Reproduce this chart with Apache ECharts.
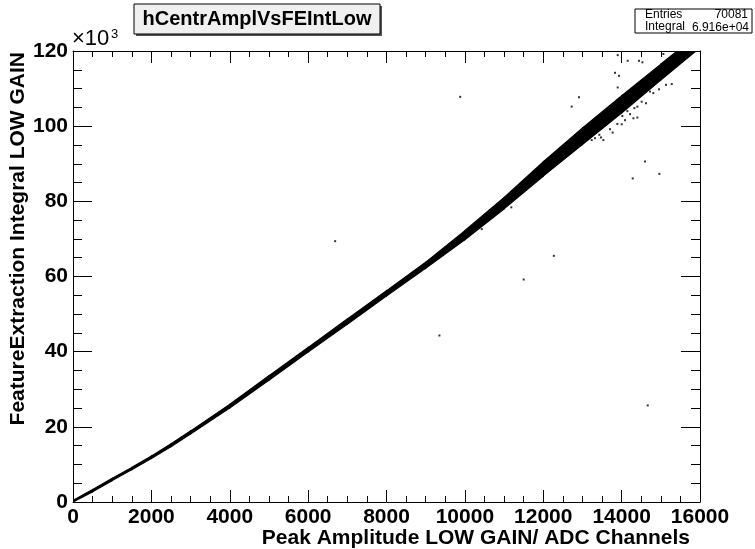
<!DOCTYPE html>
<html>
<head>
<meta charset="utf-8">
<script src="https://cdn.jsdelivr.net/npm/echarts@6/dist/echarts.min.js"></script>
<style>
html,body{margin:0;padding:0;background:#fff;}
#c{width:755px;height:549px;}
</style>
</head>
<body>
<div id="c"></div>
<script>
// Band of the 2D histogram (x in ADC channels, y in units of 10^3)
const bandX    = [0, 500, 1000, 1500, 2000, 2500, 3000, 4000, 5000, 6000, 7000, 8000, 9000, 10000, 11000, 12000, 13000, 14000, 15000, 16000];
const bandLow  = [0, 2.7, 5.7, 8.6, 11.6, 14.7, 18.1, 25.0, 32.4, 39.9, 47.3, 54.8, 62.2, 69.8, 78.0, 86.7, 95.1, 103.5, 112.3, 120.9];
const bandHigh = [0.4, 3.3, 6.3, 9.2, 12.2, 15.5, 18.9, 26.0, 33.6, 41.1, 48.7, 56.2, 63.8, 72.2, 81.0, 90.5, 99.5, 108.1, 116.5, 124.9];

// Isolated entries
const outX = [6690, 9350, 9880, 11500, 12270, 14666, 10430, 11185,
  13900, 14155, 14444, 14530, 15065, 13831, 13933, 13900, 12913, 12726,
  14725, 14809, 14955, 15133, 15279, 14512, 14622, 14401, 14325, 14146, 14215, 14019,
  14300, 14401, 14087, 13891, 14002, 13704, 13772, 13431, 13321, 13474, 13237, 13534,
  14597, 14963, 14283];
const outY = [69.4, 44.3, 107.8, 59.2, 65.5, 25.7, 72.6, 78.4,
  118.9, 117.4, 117.4, 117.0, 119.2, 114.2, 113.4, 110.3, 107.7, 105.2,
  109.2, 108.8, 109.8, 111.0, 111.2, 106.5, 106.1, 105.2, 104.8, 104.0, 103.2, 102.7,
  102.1, 102.3, 101.6, 100.6, 100.5, 99.2, 98.3, 97.7, 96.8, 97.0, 96.3, 96.3,
  90.6, 87.3, 86.1];

const xTicksMax = 16000, xInterval = 2000;
const yTicksMax = 120, yInterval = 20;

const FONT = 'Liberation Sans, Arial, Helvetica, sans-serif';

const bandData = bandX.map((x, i) => [x, bandLow[i], bandHigh[i]]);
const outData = outX.map((x, i) => [x, outY[i]]);

const chart = echarts.init(document.getElementById('c'), null, {renderer: 'canvas'});

function xAxisCfg(pos, showLabel) {
  return {
    type: 'value', position: pos, min: 0, max: xTicksMax, interval: xInterval,
    axisLine: {show: true, onZero: false, lineStyle: {color: '#000', width: 1}},
    axisTick: {show: true, inside: true, length: 12, lineStyle: {color: '#000'}},
    minorTick: {show: true, splitNumber: 4, length: 6, lineStyle: {color: '#000'}},
    splitLine: {show: false},
    axisLabel: {show: showLabel, color: '#000', fontFamily: FONT, fontWeight: 'bold', fontSize: 21, margin: 5,
      showMinLabel: true, showMaxLabel: true, formatter: v => String(v)}
  };
}
function yAxisCfg(pos, showLabel) {
  return {
    type: 'value', position: pos, min: 0, max: yTicksMax, interval: yInterval,
    axisLine: {show: true, onZero: false, lineStyle: {color: '#000', width: 1}},
    axisTick: {show: true, inside: true, length: 19, lineStyle: {color: '#000'}},
    minorTick: {show: true, splitNumber: 4, length: 9, lineStyle: {color: '#000'}},
    splitLine: {show: false},
    axisLabel: {show: showLabel, color: '#000', fontFamily: FONT, fontWeight: 'bold', fontSize: 21, margin: 5,
      showMinLabel: true, showMaxLabel: true, formatter: v => String(v)}
  };
}

chart.setOption({
  animation: false,
  backgroundColor: '#fff',
  grid: {left: 73, right: 55, top: 51, bottom: 47, containLabel: false},
  xAxis: [xAxisCfg('bottom', true), xAxisCfg('top', false)],
  yAxis: [yAxisCfg('left', true), yAxisCfg('right', false)],
  series: [
    {
      type: 'custom', data: bandData, z: 2,
      encode: {x: 0, y: [1, 2]},
      renderItem: function (params, api) {
        const i = params.dataIndex;
        if (i >= bandX.length - 1) return null;
        const p1 = api.coord([bandX[i], bandLow[i]]);
        const p2 = api.coord([bandX[i + 1], bandLow[i + 1]]);
        const p3 = api.coord([bandX[i + 1], bandHigh[i + 1]]);
        const p4 = api.coord([bandX[i], bandHigh[i]]);
        const cs = params.coordSys;
        return {
          type: 'polygon',
          shape: {points: [p1, p2, p3, p4]},
          style: {fill: '#000', stroke: '#000', lineWidth: 1.2},
          clipPath: {type: 'rect', shape: {x: cs.x, y: cs.y, width: cs.width, height: cs.height}}
        };
      }
    },
    {type: 'scatter', data: outData, symbol: 'rect', symbolSize: 2, itemStyle: {color: '#000'}, clip: true, z: 3}
  ],
  graphic: [
    // title box
    {type: 'rect', shape: {x: 136, y: 6, width: 246, height: 30}, style: {fill: '#555'}, z: 10},
    {type: 'rect', shape: {x: 134, y: 4, width: 246, height: 30}, style: {fill: '#f0f0f0', stroke: '#000', lineWidth: 1}, z: 11},
    {type: 'text', x: 257, y: 19, z: 12,
     style: {text: 'hCentrAmplVsFEIntLow', fill: '#000', font: 'bold 20px ' + FONT, align: 'center', verticalAlign: 'middle'}},
    // stats box
    {type: 'rect', shape: {x: 635, y: 9, width: 117, height: 24}, style: {fill: '#fff', stroke: '#000', lineWidth: 1}, z: 10},
    {type: 'text', x: 645, y: 15, z: 12, style: {text: 'Entries', fill: '#000', font: '12px ' + FONT, align: 'left', verticalAlign: 'middle'}},
    {type: 'text', x: 748, y: 15, z: 12, style: {text: '70081', fill: '#000', font: '12px ' + FONT, align: 'right', verticalAlign: 'middle'}},
    {type: 'text', x: 645, y: 27, z: 12, style: {text: 'Integral', fill: '#000', font: '12px ' + FONT, align: 'left', verticalAlign: 'middle'}},
    {type: 'text', x: 749, y: 28, z: 12, style: {text: '6.916e+04', fill: '#000', font: '12px ' + FONT, align: 'right', verticalAlign: 'middle'}},
    // x10^3
    {type: 'text', x: 72, y: 50, z: 12, style: {text: '×10', fill: '#000', font: '22px ' + FONT, align: 'left', verticalAlign: 'bottom'}},
    {type: 'text', x: 111, y: 41, z: 12, style: {text: '3', fill: '#000', font: '13px ' + FONT, align: 'left', verticalAlign: 'bottom'}},
    // axis titles
    {type: 'text', x: 690, y: 538, z: 12, style: {text: 'Peak Amplitude LOW GAIN/ ADC Channels', fill: '#000', font: 'bold 21px ' + FONT, align: 'right', verticalAlign: 'middle'}},
    {type: 'text', x: 18, y: 52, rotation: Math.PI / 2, z: 12, style: {text: 'FeatureExtraction Integral LOW GAIN', fill: '#000', font: 'bold 21px ' + FONT, align: 'right', verticalAlign: 'middle'}}
  ]
});
</script>
</body>
</html>
